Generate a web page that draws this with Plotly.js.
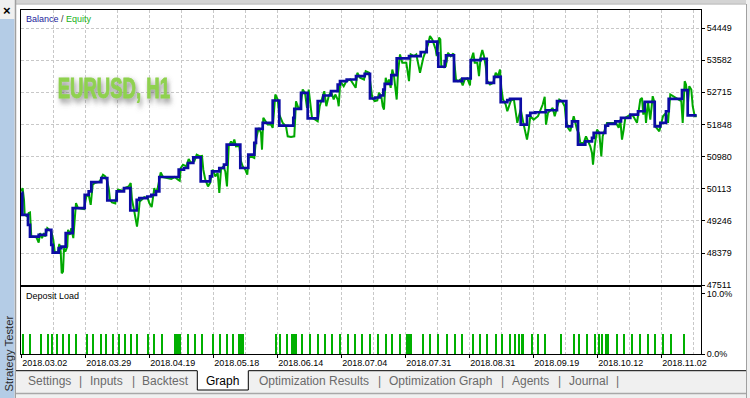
<!DOCTYPE html>
<html><head><meta charset="utf-8">
<script src="https://cdn.plot.ly/plotly-3.0.1.min.js"></script>
<style>html,body{margin:0;padding:0;background:#fff;overflow:hidden}#chart{width:750px;height:398px}</style>
</head><body><div id="chart"></div>
<script>
// ---- data ----
const balanceX = [0,1,6.7,8.7,17.4,24.7,30,31.4,37.4,40,44.4,51.4,63.4,67.4,70,80,86,95.4,102.7,109,115.4,118,126,130,134.7,138,157.4,162.7,166.7,172,179.4,188.7,190.7,198,202.7,205.4,219,227,233,234.7,241.4,251.4,258,272,273,279.7,286.4,296.4,302,309.7,316.4,318.7,325.4,334.7,343.4,348.7,354,358.7,362,363.4,370,375.4,387.7,399.4,405.4,416,417,423.4,424.7,432.7,441,449.4,459.4,465.4,472.7,479.4,486,488.7,499.4,505.7,509,514,524.7,535.7,545,550.7,556.7,564,570.7,572.4,584,586.7,594,599.7,609,616.7,623.4,633.4,639,644.7,647.4,660.7,666.4,675.4];
const balanceY = [50006,49412,49141,48825,48871,49006,48601,48392,48511,48555,48917,49593,49952,50042,50296,50404,49798,50042,50133,49528,49817,49863,49906,49952,50042,50431,50628,50674,50809,50961,50312,50447,50582,50674,50763,51304,50674,51034,51350,51729,51891,52494,51818,52026,52269,52702,52015,52475,52629,52745,52926,53015,53061,53151,53215,52548,52575,52629,52791,52945,53178,53629,53691,53799,54081,53764,53405,53556,53710,53015,53088,53583,53621,52972,53134,52448,52502,52540,51845,52088,52161,52177,52231,52475,51799,51934,51304,51393,51485,51620,51818,51864,51934,52026,52115,52204,52458,51799,51891,52204,52540,52772,52096,52096];

const equityX = [0,1.3,2.7,3.4,6,7.4,8.7,10,15,17.4,18.7,20.7,22.7,24,26,28.4,30,32,33.4,36.7,38,39.4,40.4,41.7,42.7,44,46,46.7,48.4,50,52,53.4,54.7,56.7,62.7,65,67.4,69.4,71.4,73.4,78.4,81.7,84,86,87.4,88.7,90.7,94,95.4,96.7,101.7,103.4,107.4,109.4,110.7,112.7,114.7,115.7,117,118.4,120.4,123,126.4,128,130.4,131.4,133,134.4,136.4,139.4,141.7,150,153.4,156.7,158.4,159.4,161.7,165,167.4,
169.7,173,175.4,178.7,180.7,182,184,186.7,188.7,191.4,194,196.4,198,199.7,202,204,205.7,207.4,209.7,211.4,213,214.7,218,219.7,221.4,224,226,227.4,229.7,233,234.7,237.4,239.7,240.7,242,244,246.4,249.7,251.4,254,256.4,258,259.7,261.4,264.7,266.4,269.7,273,274.7,277,279,281.4,283.7,285.7,287.4,289,290.7,294,296.4,298.4,300.7,303,305,307.4,309.7,312.4,314,316.4,317.4,319,322.4,325,329,332.4,
334.4,336,338.7,342.7,344.4,347.7,349.4,351,353.4,356,357.7,360,361.4,362.7,364.4,366,367.7,369.4,371,372.7,374.4,375.4,376.7,378.7,381,385,387.7,389.4,392.7,395,398.7,400,402,404.4,406.7,408.7,411,414.4,415.4,417.7,419,420,422.7,424.5,426.7,429.4,432,433.4,434.7,436.7,439,441.4,443.4,446,448.7,450,452,453.4,456,457.7,459.4,461,462.7,464.4,466,468.7,472,474.4,476.7,478.7,480,481.7,484.4,486,487.7,490,492.7,494.4,496,497.7,499.4,
502.4,505.7,507.4,509,512.4,516.7,521.4,523.4,524.7,526.7,531.4,533.4,535.7,538,540.7,543.4,544.7,546.7,549,552.4,555.7,557.4,559,562.4,564.7,569,570.7,571.7,573.4,575.7,578,580,581.4,583.4,585.7,594.7,597.4,599,600.7,602.4,604,609,612,615.7,617.4,619,620.7,622,623.4,624.7,626.7,629,631.4,633,634,638,641.7,644.7,646.7,649,657.4,660,661.4,663.4,664.7,666.7,668,670,671.4,673.4,675.4];
const equityY = [50042,50133,49817,49412,49366,49458,49474,48825,48809,48663,48917,48782,48917,48825,49052,49006,48960,48736,48419,48392,48628,48419,47835,47879,48511,48419,48555,49006,48871,49052,48782,49276,49728,49593,49566,49906,49952,49682,50223,50269,50312,50493,50447,50312,50133,49817,49744,49717,50015,50088,50060,50133,50177,50269,49817,49547,49276,49095,49366,49771,49817,49890,49863,49728,49620,49890,50133,49998,50133,50555,50431,50377,50431,50358,50331,50674,50763,50718,50917,
50809,50855,51034,50989,51000,50628,50358,50177,50269,50628,50447,50539,50000,50628,50718,50582,50177,51258,51393,51304,51440,51258,51270,50855,50718,50628,50493,50944,50989,50944,51440,51756,51620,51169,52026,51936,51845,51845,51756,52656,52521,52115,51980,51891,51800,51529,51511,51529,52475,52296,52296,52791,52702,52296,52791,52431,52026,51980,51934,52340,52566,52745,52340,52610,52745,52521,52656,52521,52340,53015,52880,53015,53061,52926,
52837,53242,53107,53061,53286,53242,52791,52566,52475,52494,52702,52610,52340,52250,53107,52926,53061,52837,53331,53151,52745,52521,53242,53737,53513,53513,53015,53737,53691,53737,53242,53421,53648,53826,54008,54232,54143,53872,53691,54189,54143,53421,53386,53421,53782,53691,53764,53421,53061,53015,53061,52899,53061,53088,52899,53602,53782,53513,53513,53151,53691,53853,53691,53421,53015,52926,52972,53242,53151,53331,52837,52521,52386,52204,52340,52521,52502,52204,51891,52076,52250,
51845,51440,51710,52070,51980,52070,52386,52594,51845,52161,52296,52070,52296,52521,52476,52340,51980,51756,51665,52070,51710,51620,51350,51350,51529,51258,51078,50763,51258,51710,51620,50989,51529,51710,51891,51891,51756,51980,51440,51710,52026,52115,52070,51891,52204,52521,52566,52115,52458,51891,52458,51980,52610,52458,51799,51665,52070,52161,51891,52656,52521,52480,51891,53015,52926,52431,52880,52790,52340,52070,52070];

const loadX = [1.4,8.7,19.4,26.4,31,36,41.7,47.7,54.7,66,72,79.4,84.4,91.4,98,103.7,109.4,115.4,127,132.7,140.4,153.2,154.7,156.2,157.7,159.2,166.4,173.7,180.4,192,198.7,205.4,211.4,217.2,218.7,220.2,221.7,254.7,258.7,265.4,270.7,272.2,273.7,275.2,280.4,288.7,297,303.7,310.4,318.7,327,333.7,340.4,348.7,357,364.4,371,378.7,385.7,387.2,388.7,390.2,402,408.7,417,425.4,433.7,441,452,458.7,466,474.4,480.4,488.7,493.7,498,500.7,502.2,510.4,517,523.7,539.4,552.7,557.7,565.4,573.7,577.7,581,584.2,585.7,587.2,595.4,603,611,618.7,626.4,633.7,642,649.7,663,668];
const loadY = [3.3,3.3,3.3,3.3,3.3,3.3,3.3,3.3,3.3,3.3,3.3,3.3,3.3,3.3,3.3,3.3,3.3,3.3,3.3,3.3,3.3,3.3,3.3,3.3,3.3,3.3,3.3,3.3,3.3,3.3,3.3,3.3,3.3,3.3,3.3,3.3,3.3,3.3,3.3,3.3,3.3,3.3,3.3,3.3,3.3,3.3,3.3,3.3,3.3,3.3,3.3,3.3,3.3,3.3,3.3,3.3,3.3,3.3,3.3,3.3,3.3,3.3,3.3,3.3,3.3,3.3,3.3,3.3,3.3,3.3,3.3,3.3,3.3,3.3,3.3,3.3,3.3,3.3,3.3,3.3,3.3,3.3,3.3,3.3,3.3,3.3,3.3,3.3,3.3,3.3,3.3,3.3,3.3,3.3,3.3,3.3,3.3,3.3,3.3,3.3];

const dateTicks = [0,64,128,192,256,320,384,448,512,576,640];
const dateLabels = ['2018.03.02','2018.03.29','2018.04.19','2018.05.18','2018.06.14','2018.07.04','2018.07.31','2018.08.31','2018.09.19','2018.10.12','2018.11.02'];
const valueTicks = [47511,48379,49246,50113,50980,51848,52715,53582,54449];
const loadTicks = [0,10];
const loadLabels = ['0.0%','10.0%'];
const tabNames = ['Settings','Inputs','Backtest','Graph','Optimization Results','Optimization Graph','Agents','Journal'];

// ---- layout helpers (pixel -> paper) ----
const L=21, R=701, T=10, B=354;
const px = x => (x-L)/(R-L);
const py = y => (B-y)/(B-T);
const FONT = 'Liberation Sans, Arial, sans-serif';
const GRID = '#c8c8c8';

const data = [
  {type:'scatter', mode:'lines', x:equityX, y:equityY, xaxis:'x', yaxis:'y',
   line:{color:'#00a800', width:2}, hoverinfo:'skip'},
  {type:'scatter', mode:'lines', x:balanceX, y:balanceY, xaxis:'x', yaxis:'y',
   line:{color:'#0c0ca4', width:2.7, shape:'hv'}, hoverinfo:'skip'},
  {type:'bar', x:loadX, y:loadY, xaxis:'x2', yaxis:'y2', width:1.8,
   marker:{color:'#00b000', line:{width:0}}, hoverinfo:'skip'}
];

const xRange = [-0.3, 679.7];
const commonX = {range:xRange, showline:true, linecolor:'#000', linewidth:1, mirror:true,
  zeroline:false, showgrid:true, gridcolor:GRID, gridwidth:1, griddash:'3px,2px',
  tickmode:'array', tickvals:dateTicks,
  minor:{tickmode:'linear', tick0:0, dtick:32, showgrid:true, gridcolor:GRID, gridwidth:1, griddash:'3px,2px'}};

const shapes = [];
function rect(x0,y0,x1,y1,fill){shapes.push({type:'rect',xref:'paper',yref:'paper',x0:px(x0),x1:px(x1),y0:py(y1),y1:py(y0),fillcolor:fill,line:{width:0},layer:'above'});}
function line(x0,y0,x1,y1,color,w){shapes.push({type:'line',xref:'paper',yref:'paper',x0:px(x0),x1:px(x1),y0:py(y0),y1:py(y1),line:{color:color,width:w||1},layer:'above'});}
// window chrome
rect(0,0,750,3.5,'#d4d4d4');
line(15,4,750,4,'#a8a8a8',1);
rect(0,0,15,19,'#f0f0f0');
rect(0,19,14.5,398,'#b4cce6');
line(15.5,0,15.5,398,'#a0a0a0',1.5);
rect(746,0,750,398,'#f0f0f0');
line(746.5,4,746.5,398,'#a0a0a0',1);
rect(16,371,746,398,'#f0f0f0');
line(16,370.7,197.3,370.7,'#000',1);
line(248.3,370.7,746,370.7,'#000',1);
rect(197.3,370.2,248.3,390,'#ffffff');
line(197.3,370.7,197.3,390,'#000',1);
line(248.3,370.7,248.3,390,'#000',1);
line(197.3,390,248.3,390,'#000',1);
line(16,393.5,746,393.5,'#a8a8a8',1.5);

const annotations = [];
function note(text,x,y,opts){annotations.push(Object.assign({text:text,xref:'paper',yref:'paper',x:px(x),y:py(y),showarrow:false,xanchor:'left',yanchor:'middle',font:{family:FONT,size:9,color:'#000'}},opts||{}));}
note('<span style="color:#1c1c9c">Balance</span><span style="color:#333"> / </span><span style="color:#18b018">Equity</span>',24,18.5);
note('Deposit Load',24,295.7);
note('EURUSD, H1',114,88,{xanchor:'center',font:{family:FONT,size:29,weight:'bold',color:'#8fd14f'}});
const tabCenters = [49,106.5,165,222.5,313.5,440,530.7,588];
tabNames.forEach((t,i)=>note(t,tabCenters[i],381,{xanchor:'center',font:{family:FONT,size:12,color:t==='Graph'?'#000':'#6a6a6a'}}));
[80,133.3,379,502.7,559.3,617.3].forEach(x=>note('|',x,381,{xanchor:'center',font:{family:FONT,size:12,color:'#6a6a6a'}}));
note('Strategy Tester',8,353.5,{xanchor:'center',textangle:-90,font:{family:FONT,size:11.3,color:'#2a2a2a'}});
note('×',6.7,10,{xanchor:'center',font:{family:FONT,size:13,weight:'bold',color:'#000'}});

const layout = {
  width:750, height:398, margin:{l:L, r:750-R, t:T, b:398-B, pad:0},
  paper_bgcolor:'#ffffff', plot_bgcolor:'rgba(0,0,0,0)', showlegend:false,
  font:{family:FONT, size:9, color:'#000'},
  xaxis: Object.assign({}, commonX, {anchor:'y', domain:[0,1], showticklabels:false, ticks:''}),
  xaxis2: Object.assign({}, commonX, {anchor:'y2', domain:[0,1], ticktext:dateLabels,
    ticks:'outside', ticklen:3, tickcolor:'#000', ticklabelposition:'outside right',
    tickfont:{family:FONT,size:9,color:'#000'}}),
  yaxis: {anchor:'x', domain:[py(285.3),1], range:[47511,54935], side:'right',
    tickmode:'array', tickvals:valueTicks, ticktext:valueTicks.map(String),
    ticks:'outside', ticklen:3, tickcolor:'#000', showline:true, mirror:true, linecolor:'#000', linewidth:1,
    zeroline:false, showgrid:true, gridcolor:GRID, gridwidth:1, griddash:'3px,2px',
    tickfont:{family:FONT,size:9,color:'#000'}},
  yaxis2: {anchor:'x2', domain:[0,py(287.3)], range:[0,11.1], side:'right',
    tickmode:'array', tickvals:loadTicks, ticktext:loadLabels,
    ticks:'outside', ticklen:3, tickcolor:'#000', showline:true, mirror:true, linecolor:'#000', linewidth:1,
    zeroline:false, showgrid:false, tickfont:{family:FONT,size:9,color:'#000'}},
  bargap:0, shapes:shapes, annotations:annotations
};

Plotly.newPlot('chart', data, layout, {staticPlot:true, displayModeBar:false}).then(gd=>{
  const ns='http://www.w3.org/2000/svg';
  const svg = gd.querySelector('svg.main-svg');
  let defs = svg.querySelector('defs');
  if(!defs){defs=document.createElementNS(ns,'defs');svg.insertBefore(defs,svg.firstChild);}
  const f=document.createElementNS(ns,'filter');
  f.setAttribute('id','wmShadow');f.setAttribute('x','-30%');f.setAttribute('y','-60%');f.setAttribute('width','160%');f.setAttribute('height','220%');
  const ds=document.createElementNS(ns,'feDropShadow');
  ds.setAttribute('dx','2.5');ds.setAttribute('dy','3.5');ds.setAttribute('stdDeviation','3');
  ds.setAttribute('flood-color','#606060');ds.setAttribute('flood-opacity','0.75');
  f.appendChild(ds);defs.appendChild(f);
  gd.querySelectorAll('text.annotation-text').forEach(t=>{
    if(t.textContent.indexOf('EURUSD')===0){
      const bb=t.getBBox();const cx=bb.x+bb.width/2;
      t.setAttribute('transform','translate('+cx+',0) scale(0.64,1) translate('+(-cx)+',0)');
      t.setAttribute('filter','url(#wmShadow)');
      t.style.stroke='#8fd14f';t.style.strokeWidth='0.9px';t.style.strokeLinejoin='miter';
    }
  });
});
</script>
</body></html>
